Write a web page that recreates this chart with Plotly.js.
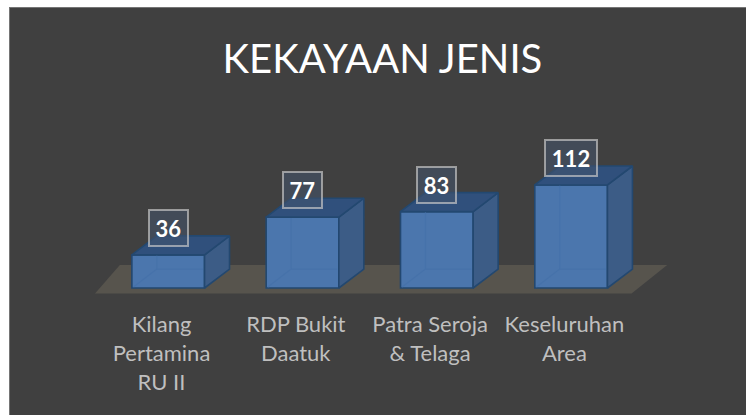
<!DOCTYPE html>
<html><head><meta charset="utf-8">
<script src="https://cdn.plot.ly/plotly-3.0.1.min.js"></script>
<style>html,body{margin:0;padding:0;background:#fff;overflow:hidden}
#c{position:absolute;left:9px;top:7px;border-left:1px solid #757575;border-top:1px solid #757575;width:737px;height:408px;box-sizing:border-box}</style>
</head><body><div id="c"></div>
<script>
const categories = ['Kilang<br>Pertamina<br>RU II', 'RDP Bukit<br>Daatuk', 'Patra Seroja<br>& Telaga', 'Keseluruhan<br>Area'];
const values = [36, 77, 83, 112];
const floorX = [-0.495, 3.5, 3.765, -0.31];
const floorY = [-6, -6, 25, 25];
const tickPos = [0, 1, 2, 3];
const barOffset = 0.05, barW = 0.541, depthX = 0.186, depthY = 20.6;
const front = '#4b76ad', side = '#3c5c86', top_ = '#30507c', edge = '#234870', inner = '#4672aa';

const traces = [];
traces.push({type:'bar', x:tickPos.map(p=>p+barOffset), y:values, width:barW, marker:{color:front, line:{color:edge, width:1.6}}});
values.forEach((v,i)=>{
  const l = tickPos[i]+barOffset-barW/2, r = l+barW;
  traces.push({type:'scatter', mode:'lines', x:[r,r+depthX,r+depthX,r,r], y:[0,depthY,v+depthY,v,0], fill:'toself', fillcolor:side, line:{color:edge,width:1.6}, hoverinfo:'skip'});
  traces.push({type:'scatter', mode:'lines', x:[l,l+depthX,r+depthX,r,l], y:[v,v+depthY,v+depthY,v,v], fill:'toself', fillcolor:top_, line:{color:edge,width:1.6}, hoverinfo:'skip'});
  traces.push({type:'scatter', mode:'lines', x:[l+0.012,l+depthX,l+depthX,null,l+depthX,r-0.012], y:[1,depthY,v-1,null,depthY,depthY], line:{color:inner,width:1.2}, hoverinfo:'skip'});
});
const floorPath = 'M ' + floorX.map((x,i)=>x+' '+floorY[i]).join(' L ') + ' Z';
const annotations = values.map((v,i)=>({
  x:tickPos[i]+barOffset, y:v, xref:'x', yref:'y', text:'<b>'+v+'</b>', showarrow:false, yshift:27,
  font:{family:'Lato, Carlito, sans-serif', size:22, color:'#ffffff'},
  width:v>99?50:37, height:34, bgcolor:'rgba(68,84,108,0.55)', bordercolor:'rgba(200,200,200,0.68)', borderwidth:2, borderpad:0
}));
const layout = {
  width:736, height:407, margin:{l:0,r:0,t:0,b:117,pad:0}, showlegend:false, barmode:'overlay',
  paper_bgcolor:'#404040', plot_bgcolor:'rgba(0,0,0,0)',
  title:{text:'KEKAYAAN JENIS', font:{family:'Lato, Carlito, sans-serif', size:40, color:'#ffffff'}, x:0.506, xanchor:'center', y:0.875, yanchor:'middle'},
  xaxis:{range:[-1.128,4.352], tickmode:'array', tickvals:tickPos, ticktext:categories, showgrid:false, zeroline:false, showline:false, ticks:'outside', ticklen:7, tickcolor:'rgba(0,0,0,0)', tickfont:{family:'Lato, Carlito, sans-serif', size:22, color:'#bfbfbf'}, tickangle:0, fixedrange:true},
  yaxis:{range:[-10.87,304.3], visible:false, fixedrange:true},
  shapes:[{type:'path', path:floorPath, xref:'x', yref:'y', fillcolor:'#57544d', line:{width:0}, layer:'below'}],
  annotations
};
Plotly.newPlot('c', traces, layout, {displayModeBar:false, staticPlot:true});
</script></body></html>
